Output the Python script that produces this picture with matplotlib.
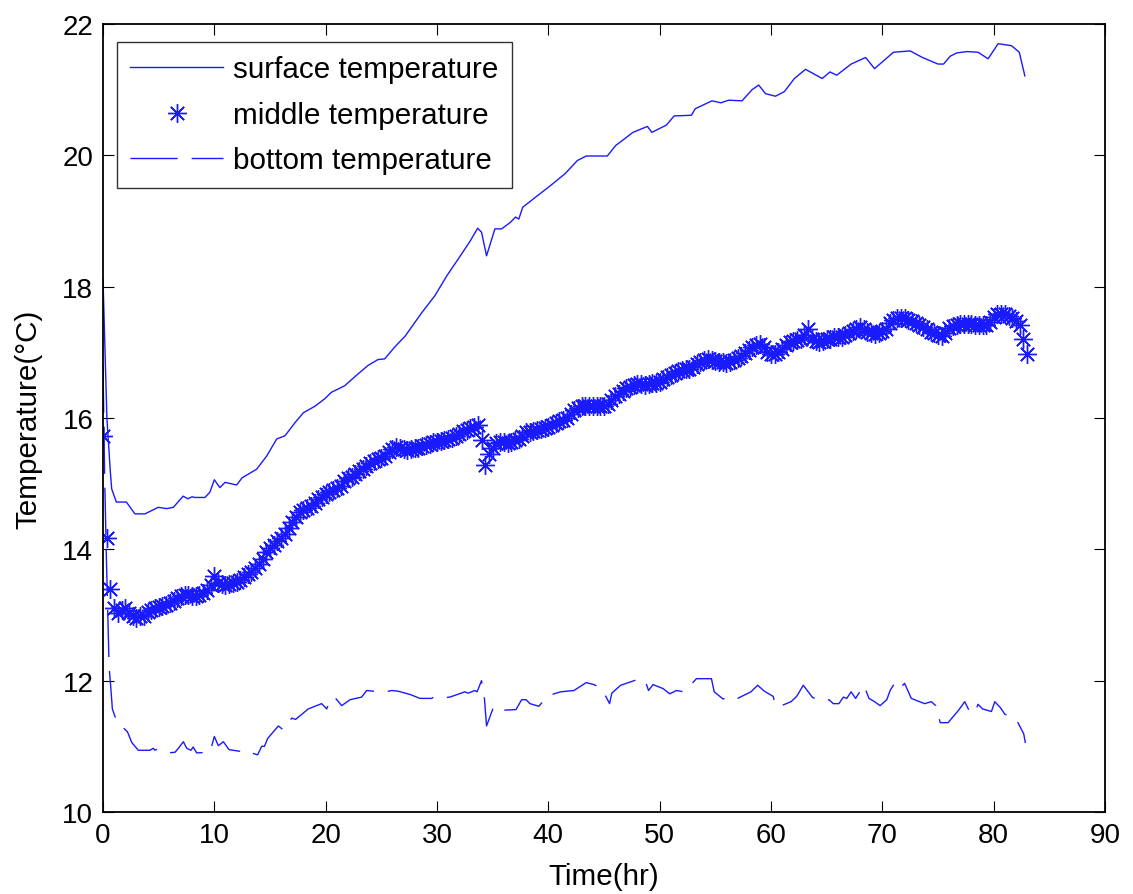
import numpy as np
import matplotlib
matplotlib.use("Agg")
import matplotlib.pyplot as plt

# ---------------- data ----------------
surface_t = [0.0, 0.35, 0.65, 0.78, 1.2, 2.1, 2.87, 3.77, 4.97, 5.72, 6.32, 7.2, 7.6, 8.0,
             8.26, 9.16, 9.6, 10.0, 10.5, 10.96, 12.0, 12.5, 13.8, 14.7, 15.6, 16.35, 17.25,
             18.0, 19.04, 19.9, 20.5, 21.7, 22.9, 23.8, 24.7, 25.3, 26.2, 27.15, 28.66, 29.8,
             30.9, 31.9, 33.0, 33.65, 34.0, 34.45, 35.2, 35.8, 36.6, 37.05, 37.35, 37.7, 39.06,
             40.2, 41.5, 42.6, 43.4, 45.3, 46.05, 46.6, 47.6, 48.9, 49.3, 50.6, 51.3, 52.85,
             53.2, 54.7, 55.5, 56.2, 57.4, 58.3, 58.9, 59.5, 60.4, 61.2, 62.1, 63.1, 64.6, 65.3,
             65.9, 67.2, 68.5, 69.3, 71.0, 72.5, 73.6, 75.0, 75.5, 76.1, 76.7, 77.6, 78.6, 79.5,
             80.4, 81.6, 82.3, 82.8]
surface_v = [18.12, 16.0, 15.2, 14.92, 14.72, 14.72, 14.54, 14.54, 14.64, 14.62, 14.64, 14.81,
             14.77, 14.80, 14.79, 14.79, 14.87, 15.06, 14.94, 15.02, 14.98, 15.09, 15.22, 15.42,
             15.68, 15.73, 15.93, 16.08, 16.18, 16.29, 16.39, 16.49, 16.67, 16.80, 16.89, 16.90,
             17.08, 17.25, 17.61, 17.86, 18.17, 18.42, 18.70, 18.89, 18.83, 18.47, 18.88, 18.88,
             18.98, 19.06, 19.03, 19.21, 19.39, 19.54, 19.72, 19.92, 19.99, 19.99, 20.15, 20.22,
             20.35, 20.44, 20.35, 20.46, 20.60, 20.61, 20.71, 20.83, 20.80, 20.84, 20.83, 21.00,
             21.07, 20.94, 20.90, 20.97, 21.17, 21.31, 21.17, 21.27, 21.22, 21.39, 21.49, 21.32,
             21.57, 21.59, 21.49, 21.39, 21.39, 21.51, 21.56, 21.58, 21.57, 21.47, 21.70, 21.67,
             21.57, 21.21]

# middle sensor, sampled every 1/3 hour (one row per hour)
middle_v = [
    15.72, 14.18, 13.39,
    13.11, 13.03, 13.08,
    13.11, 13.03, 12.98,
    12.96, 12.98, 12.99,
    13.04, 13.08, 13.10,
    13.12, 13.13, 13.15,
    13.18, 13.21, 13.26,
    13.29, 13.31, 13.30,
    13.29, 13.29, 13.31,
    13.34, 13.38, 13.45,
    13.60, 13.49, 13.47,
    13.46, 13.47, 13.49,
    13.51, 13.54, 13.58,
    13.62, 13.66, 13.71,
    13.77, 13.85, 13.96,
    14.02, 14.07, 14.12,
    14.17, 14.24, 14.33,
    14.42, 14.50, 14.57,
    14.60, 14.63, 14.66,
    14.71, 14.76, 14.80,
    14.84, 14.88, 14.91,
    14.94, 14.97, 15.04,
    15.08, 15.10, 15.14,
    15.19, 15.23, 15.27,
    15.32, 15.35, 15.38,
    15.39, 15.42, 15.48,
    15.53, 15.56, 15.54,
    15.53, 15.52, 15.53,
    15.54, 15.55, 15.57,
    15.59, 15.61, 15.63,
    15.64, 15.65, 15.67,
    15.68, 15.70, 15.72,
    15.76, 15.80, 15.82,
    15.85, 15.87, 15.90,
    15.66, 15.29, 15.45,
    15.55, 15.62, 15.63,
    15.63, 15.62, 15.64,
    15.66, 15.68, 15.73,
    15.78, 15.79, 15.80,
    15.81, 15.83, 15.85,
    15.87, 15.90, 15.93,
    15.95, 15.97, 16.00,
    16.06, 16.12, 16.15,
    16.18, 16.19, 16.19,
    16.19, 16.19, 16.18,
    16.19, 16.21, 16.28,
    16.33, 16.37, 16.41,
    16.45, 16.47, 16.50,
    16.52, 16.52, 16.51,
    16.52, 16.53, 16.54,
    16.55, 16.59, 16.63,
    16.65, 16.69, 16.72,
    16.73, 16.74, 16.75,
    16.78, 16.82, 16.85,
    16.88, 16.90, 16.89,
    16.87, 16.85, 16.85,
    16.84, 16.85, 16.88,
    16.91, 16.94, 16.99,
    17.04, 17.08, 17.11,
    17.13, 17.08, 17.00,
    16.97, 16.98, 17.00,
    17.05, 17.11, 17.15,
    17.17, 17.19, 17.21,
    17.27, 17.35, 17.20,
    17.18, 17.16, 17.18,
    17.20, 17.21, 17.23,
    17.23, 17.24, 17.27,
    17.30, 17.33, 17.36,
    17.38, 17.35, 17.31,
    17.29, 17.28, 17.29,
    17.32, 17.36, 17.44,
    17.50, 17.52, 17.53,
    17.53, 17.50, 17.47,
    17.44, 17.41, 17.38,
    17.35, 17.31, 17.29,
    17.26, 17.25, 17.30,
    17.37, 17.40, 17.42,
    17.43, 17.43, 17.43,
    17.43, 17.42, 17.41,
    17.41, 17.41, 17.46,
    17.54, 17.58, 17.59,
    17.58, 17.56, 17.53,
    17.48, 17.41, 17.20,
    16.98,
]
middle_t = np.arange(len(middle_v)) / 3.0

bottom_t = [0.0, 0.15, 0.3, 0.55, 0.69, 0.84, 1.23, 2.2, 2.58, 3.17, 4.22, 4.52, 4.67, 4.88,
            5.87, 6.47, 6.77, 7.22, 7.52, 7.9, 8.1, 8.41, 9.61, 10.0, 10.36, 10.81, 11.32,
            12.46, 12.8, 13.05, 13.35, 13.89, 14.25, 14.5, 14.79, 15.75, 16.2, 16.95, 17.3,
            18.44, 19.64, 20.09, 20.54, 20.9, 21.44, 22.19, 23.23, 23.68, 24.3, 24.8, 25.4,
            25.93, 26.5, 27.58, 28.47, 29.52, 29.7, 30.1, 31.16, 32.5, 32.8, 33.4, 33.6, 34.0,
            34.25, 34.45, 35.1, 35.95, 37.1, 37.6, 38.0, 38.35, 39.15, 39.95, 41.1, 42.3, 43.4,
            44.1, 44.8, 45.5, 45.7, 46.5, 47.7, 48.3, 48.7, 49.0, 49.4, 50.3, 50.9, 51.5, 52.2,
            53.3, 54.65, 54.9, 55.7, 56.1, 56.5, 57.0, 58.2, 58.8, 59.4, 60.2, 60.4, 60.8, 61.8,
            62.3, 62.9, 63.7, 64.2, 65.2, 65.6, 66.1, 66.5, 66.8, 67.2, 67.6, 68.35, 68.8, 69.3,
            69.8, 70.4, 70.7, 71.1, 71.5, 72.0, 72.6, 73.8, 74.4, 74.8, 75.2, 75.9, 76.85, 77.4,
            77.9, 78.3, 78.6, 79.0, 79.8, 80.1, 80.6, 81.0, 81.7, 82.0, 82.7, 82.85]
bottom_v = [16.8, 15.1, 13.9, 12.2, 11.92, 11.57, 11.38, 11.22, 11.06, 10.94, 10.94, 10.97,
            10.94, 10.96, 10.90, 10.91, 10.97, 11.07, 10.97, 10.94, 10.99, 10.90, 10.91, 11.15,
            11.01, 11.07, 10.95, 10.92, 10.88, 10.88, 10.90, 10.87, 11.00, 11.00, 11.12, 11.31,
            11.25, 11.43, 11.41, 11.57, 11.65, 11.57, 11.75, 11.73, 11.62, 11.71, 11.75, 11.85,
            11.84, 11.85, 11.83, 11.85, 11.84, 11.79, 11.73, 11.73, 11.75, 11.73, 11.75, 11.83,
            11.81, 11.85, 11.83, 12.00, 11.75, 11.31, 11.61, 11.55, 11.56, 11.71, 11.71, 11.65,
            11.61, 11.77, 11.83, 11.85, 11.97, 11.94, 11.88, 11.65, 11.81, 11.93, 12.00, 12.03,
            12.00, 11.85, 11.94, 11.88, 11.80, 11.85, 11.83, 12.03, 12.03, 11.83, 11.72, 11.76,
            11.74, 11.73, 11.83, 11.93, 11.84, 11.76, 11.61, 11.61, 11.68, 11.76, 11.93, 11.75,
            11.70, 11.71, 11.65, 11.65, 11.75, 11.73, 11.83, 11.73, 11.93, 11.73, 11.68, 11.62,
            11.71, 11.85, 11.96, 11.87, 11.96, 11.73, 11.65, 11.68, 11.62, 11.36, 11.36, 11.55,
            11.68, 11.51, 11.51, 11.64, 11.57, 11.53, 11.68, 11.59, 11.49, 11.44, 11.42, 11.19,
            11.05]

x_ticks = [0, 10, 20, 30, 40, 50, 60, 70, 80, 90]
y_ticks = [10, 12, 14, 16, 18, 20, 22]
labels = ["surface temperature", "middle temperature", "bottom temperature"]

# ---------------- style ----------------
plt.rcParams['font.family'] = ['Liberation Sans', 'DejaVu Sans']
plt.rcParams['lines.scale_dashes'] = False
FS_TICK = 20
FS_TEXT = 21.3
BLUE = '#1a1aff'

fig = plt.figure(figsize=(11.33, 8.95), dpi=100)
ax = fig.add_axes([103 / 1133, 1 - 813 / 895, (1105 - 103) / 1133, (813 - 25) / 895])

ax.plot(surface_t, surface_v, color=BLUE, lw=1.0, label=labels[0])
ax.plot(middle_t, middle_v, ls='none', marker=(8, 2, 0), ms=13.5, mew=1.0,
        color=BLUE, label=labels[1])
ax.plot(bottom_t, bottom_v, color=BLUE, lw=1.0, ls=(0, (34, 10)), label=labels[2])

ax.set_xlim(0, 90)
ax.set_ylim(10, 22)
ax.set_xticks(x_ticks)
ax.set_yticks(y_ticks)
ax.tick_params(direction='in', length=8, width=0.8, top=True, right=True,
               labelsize=FS_TICK, pad=7, colors='black')
for s in ax.spines.values():
    s.set_linewidth(1.3)
    s.set_color('black')

ax.set_xlabel('Time(hr)', fontsize=FS_TEXT, labelpad=10)
ax.set_ylabel('Temperature(°C)', fontsize=FS_TEXT, labelpad=14)

leg = ax.legend(loc='upper left', bbox_to_anchor=(0.014, 0.977), borderaxespad=0,
                fontsize=FS_TEXT, frameon=True, fancybox=False, edgecolor='black',
                handlelength=3.14, handletextpad=0.34, labelspacing=0.59,
                borderpad=0.45, markerscale=1.0, numpoints=1)
leg.get_frame().set_linewidth(1.0)

fig.savefig('out.png', dpi=100)
